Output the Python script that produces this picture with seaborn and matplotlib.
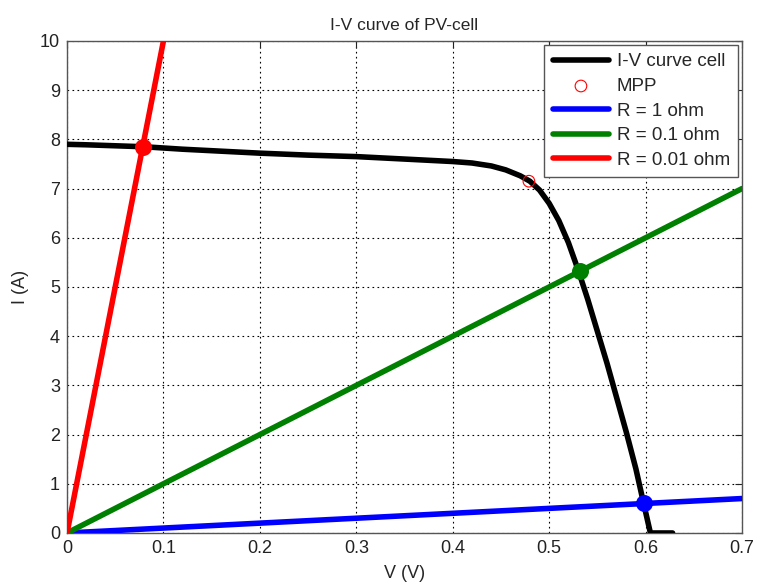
import numpy as np
import pandas as pd
import matplotlib
matplotlib.use("Agg")
import matplotlib.pyplot as plt
import seaborn as sns

# I-V curve of cell
v_cell = [0.0, 0.02, 0.05, 0.08, 0.12, 0.16, 0.2, 0.25, 0.3, 0.35, 0.4, 0.42, 0.44, 0.455,
          0.47, 0.48, 0.49, 0.5, 0.51, 0.52, 0.53, 0.54, 0.55, 0.56, 0.57, 0.58, 0.59,
          0.598, 0.605, 0.61, 0.628]
i_cell = [7.9, 7.89, 7.87, 7.85, 7.8, 7.76, 7.72, 7.68, 7.65, 7.6, 7.55, 7.52, 7.46, 7.38,
          7.26, 7.15, 6.97, 6.7, 6.35, 5.9, 5.35, 4.75, 4.1, 3.45, 2.75, 2.05, 1.3,
          0.6, 0.0, 0.0, 0.0]

# Maximum power point
v_mpp = [0.479]
i_mpp = [7.15]

# Load lines
v_load = [0.0, 0.7]
r_values = [1.0, 0.1, 0.01]
load_labels = ["R = 1 ohm", "R = 0.1 ohm", "R = 0.01 ohm"]
load_colors = ["#0000ff", "#008000", "#ff0000"]

# Operating points (intersections)
v_op = [0.598, 0.532, 0.0785]
i_op = [0.6, 5.32, 7.85]

x_ticks = [0, 0.1, 0.2, 0.3, 0.4, 0.5, 0.6, 0.7]
x_tick_labels = ["0", "0.1", "0.2", "0.3", "0.4", "0.5", "0.6", "0.7"]
y_ticks = list(range(0, 11))

sns.set_style("white")
plt.rcParams['font.family'] = ['Liberation Sans', 'DejaVu Sans']

fig = plt.figure(figsize=(7.58, 5.83), dpi=100)
ax = fig.add_axes([0.0884, 0.0858, 0.8905, 0.8439])

sns.lineplot(x=v_cell, y=i_cell, ax=ax, color="black", linewidth=4, label="I-V curve cell",
             sort=False, estimator=None, zorder=3)
sns.scatterplot(x=v_mpp, y=i_mpp, ax=ax, marker="o", s=70, facecolor="none",
                edgecolor="#ff0000", linewidth=0.8, label="MPP", zorder=6)

for r, lab, col in zip(r_values, load_labels, load_colors):
    i_load = [v / r for v in v_load]
    sns.lineplot(x=v_load, y=i_load, ax=ax, color=col, linewidth=4, label=lab,
                 estimator=None, zorder=4)

for v, i, col in zip(v_op, i_op, load_colors):
    sns.scatterplot(x=[v], y=[i], ax=ax, color=col, s=150, edgecolor=col,
                    linewidth=0, zorder=5, legend=False)

ax.set_xlim(0, 0.7)
ax.set_ylim(0, 10)
ax.set_xticks(x_ticks)
ax.set_xticklabels(x_tick_labels)
ax.set_yticks(y_ticks)
ax.grid(True, color="black", linestyle=(0, (1.5, 3)), linewidth=0.8)
ax.set_axisbelow(True)
ax.tick_params(direction="in", length=5, top=True, right=True, labelsize=13, colors="#222222",
               pad=5)
for sp in ax.spines.values():
    sp.set_color("#555555")
    sp.set_linewidth(1.0)

ax.set_title("I-V curve of PV-cell", fontsize=12.5, pad=8)
ax.set_xlabel("V (V)", fontsize=13, labelpad=6)
ax.set_ylabel("I (A)", fontsize=13, labelpad=8)

leg = ax.legend(loc="upper right", fontsize=13.5, frameon=True, fancybox=False,
                edgecolor="#555555", framealpha=1, handlelength=3.0, borderaxespad=0.2,
                labelspacing=0.4, handletextpad=0.4, borderpad=0.45)
leg.get_frame().set_linewidth(1.0)

fig.savefig("out.png", dpi=100)
